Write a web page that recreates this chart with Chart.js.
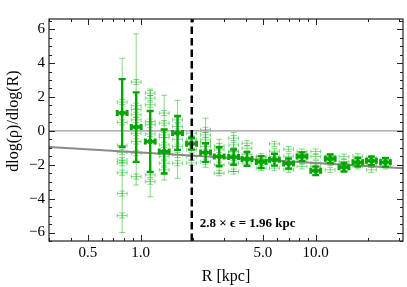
<!DOCTYPE html>
<html>
<head>
<meta charset="utf-8">
<script src="https://cdn.jsdelivr.net/npm/chart.js@4.4.0/dist/chart.umd.min.js"></script>
<style>html,body{margin:0;padding:0;background:#fff}</style>
</head>
<body>
<canvas id="slopeChart" width="407" height="287"></canvas>
<script>
// radial bins (kpc) and the mean logarithmic slope in each bin
const binR = [0.785, 0.944, 1.135, 1.364, 1.626, 1.955, 2.35, 2.81, 3.40, 4.05,
              4.88, 5.81, 7.00, 8.35, 10.0, 12.1, 14.5, 17.4, 20.8, 25.0];
const meanSlope = [1.05, 0.22, -0.63, -1.22, -0.12, -0.76, -1.28, -1.52, -1.55, -1.66,
                   -1.84, -1.70, -1.93, -1.52, -2.36, -1.65, -2.15, -1.85, -1.77, -1.86];
const meanErr = [2.0, 2.05, 1.8, 1.3, 1.0, 0.35, 0.55, 0.55, 0.45, 0.4,
                 0.35, 0.35, 0.3, 0.25, 0.25, 0.25, 0.25, 0.25, 0.25, 0.25];

// individual samples per bin (light crosses)
const sampleSlope = [
    [1.7, 0.5, -1.26, -1.72, -1.91, -2.47, -3.7, -5.0],
    [2.88, 1.48, 0.95, 0.65, -0.14, -0.63, -1.32, -2.7],
    [2.23, 1.93, 1.54, 0.55, 0.36, -0.18, -2.6, -3.0],
    [1.05, 0.46, -0.24, -0.83, -1.52, -1.91, -2.3],
    [0.65, 0.26, -0.93, -1.42, -1.91],
    [-0.14, -0.5, -1.12, -1.52, -1.9],
    [0.06, -0.24, -0.53, -0.93, -1.82],
    [-0.9, -1.12, -2.0, -2.5],
    [-0.43, -0.83, -1.22, -1.9, -2.4],
    [-0.73, -1.02, -1.4, -1.9],
    [-1.5, -1.6, -2.2],
    [-0.77, -1.2, -1.5, -2.2],
    [-1.08, -1.5, -2.3],
    [-1.22, -1.4, -1.8, -2.1],
    [-1.22, -1.52, -1.91, -2.1],
    [-1.5, -1.9, -2.3],
    [-1.52, -1.82, -2.0],
    [-1.5, -1.8, -2.1],
    [-1.6, -2.0, -2.3],
    [-1.7, -2.1]
];
const sampleErr = 0.15;
// the few samples with large error bars: [bin, centre, error]
const longSamples = [[0, -0.86, 5.14], [1, 1.26, 4.46], [2, -0.71, 3.18], [3, -0.4, 2.5],
                     [4, -0.5, 2.3], [6, -0.7, 1.45], [7, -1.5, 1.0], [8, -1.25, 1.15]];
const binHalfWidth = 0.028; // dex

const fitR = [0.3, 31.5];
const fitSlope = [-0.96, -2.2];
const softening = 1.96;

const xTicks = [0.5, 1, 5, 10];
const xMinor = [0.3, 0.4, 0.6, 0.7, 0.8, 0.9, 2, 3, 4, 6, 7, 8, 9, 20, 30];
const yTicks = [-6, -4, -2, 0, 2, 4, 6];

const DARK = 'rgb(0,165,0)';
const LIGHT = 'rgba(0,180,0,0.48)';
const SERIF = '"Liberation Serif", "Times New Roman", serif';

function makeBars(r, y, err) {
    return {r: r, y: y, lo: y - err, hi: y + err};
}

const darkBars = binR.map((r, i) => makeBars(r, meanSlope[i], meanErr[i]));
const lightBars = [];
const lightPts = [];
sampleSlope.forEach((arr, i) => {
    arr.forEach(v => {
        lightBars.push(makeBars(binR[i], v, sampleErr));
        lightPts.push({x: binR[i], y: v});
    });
});
longSamples.forEach(s => {
    lightBars.push(makeBars(binR[s[0]], s[1], s[2]));
    lightPts.push({x: binR[s[0]], y: s[1]});
});

function drawBar(ctx, xs, ys, b, st) {
    const f = Math.pow(10, binHalfWidth);
    const px = xs.getPixelForValue(b.r);
    const py = ys.getPixelForValue(b.y);
    const pl = xs.getPixelForValue(b.r / f);
    const pr = xs.getPixelForValue(b.r * f);
    const pt = ys.getPixelForValue(b.hi);
    const pb = ys.getPixelForValue(b.lo);
    ctx.strokeStyle = st.color;
    ctx.lineWidth = st.width;
    ctx.beginPath();
    ctx.moveTo(px, pt); ctx.lineTo(px, pb);
    ctx.moveTo(px - st.cap, pt); ctx.lineTo(px + st.cap, pt);
    ctx.moveTo(px - st.cap, pb); ctx.lineTo(px + st.cap, pb);
    ctx.stroke();
    ctx.lineWidth = st.hwidth;
    ctx.beginPath();
    ctx.moveTo(pl, py); ctx.lineTo(pr, py);
    ctx.moveTo(pl, py - st.hcap); ctx.lineTo(pl, py + st.hcap);
    ctx.moveTo(pr, py - st.hcap); ctx.lineTo(pr, py + st.hcap);
    ctx.stroke();
}

const errorBars = {
    id: 'errorBars',
    afterDatasetDraw(chart, args) {
        const ds = chart.data.datasets[args.index];
        if (!ds.bars) return;
        const {ctx, chartArea: a, scales: {x, y}} = chart;
        ctx.save();
        ctx.beginPath();
        ctx.rect(a.left, a.top, a.right - a.left, a.bottom - a.top);
        ctx.clip();
        ds.bars.forEach(b => drawBar(ctx, x, y, b, ds.barStyle));
        ctx.restore();
    }
};

const frame = {
    id: 'frame',
    afterDraw(chart) {
        const {ctx, chartArea: a, scales: {x, y}} = chart;
        ctx.save();
        ctx.strokeStyle = '#222';
        ctx.lineWidth = 1.2;
        ctx.strokeRect(a.left, a.top, a.right - a.left, a.bottom - a.top);
        ctx.lineWidth = 1;
        ctx.beginPath();
        const xt = (v, len) => {
            const p = Math.round(x.getPixelForValue(v)) + 0.5;
            ctx.moveTo(p, a.bottom); ctx.lineTo(p, a.bottom - len);
            ctx.moveTo(p, a.top); ctx.lineTo(p, a.top + len);
        };
        xTicks.forEach(v => xt(v, 6));
        xMinor.forEach(v => xt(v, 3));
        for (let v = -6.5; v <= 6.5; v += 0.5) {
            const len = yTicks.includes(v) ? 6 : 3;
            const p = Math.round(y.getPixelForValue(v)) + 0.5;
            ctx.moveTo(a.left, p); ctx.lineTo(a.left + len, p);
            ctx.moveTo(a.right, p); ctx.lineTo(a.right - len, p);
        }
        ctx.stroke();

        // axis titles
        ctx.fillStyle = '#000';
        ctx.font = '16px ' + SERIF;
        ctx.textAlign = 'center';
        ctx.textBaseline = 'middle';
        ctx.fillText('R [kpc]', (a.left + a.right) / 2, 277);
        ctx.save();
        ctx.translate(14, 121);
        ctx.rotate(-Math.PI / 2);
        ctx.fillText('dlog(\u03c1)/dlog(R)', 0, 0);
        ctx.restore();

        // softening annotation
        ctx.font = 'bold 13px ' + SERIF;
        ctx.textAlign = 'left';
        ctx.textBaseline = 'alphabetic';
        ctx.fillText('2.8 \u00d7 \u03f5 = 1.96 kpc', x.getPixelForValue(softening) + 8, y.getPixelForValue(-5.7));
        ctx.restore();
    }
};

function initSlopeChart() {
    const ctx = document.getElementById('slopeChart').getContext('2d');
    new Chart(ctx, {
        type: 'scatter',
        data: {
            datasets: [
                {
                    data: lightPts,
                    pointRadius: 0,
                    bars: lightBars,
                    barStyle: {color: LIGHT, width: 1, cap: 3, hwidth: 1, hcap: 2},
                    order: 5
                },
                {
                    data: [{x: fitR[0], y: 0}, {x: fitR[1], y: 0}],
                    showLine: true,
                    borderColor: '#9a9a9a',
                    borderWidth: 1.2,
                    pointRadius: 0,
                    order: 4
                },
                {
                    data: fitR.map((r, i) => ({x: r, y: fitSlope[i]})),
                    showLine: true,
                    borderColor: '#8a8a8a',
                    borderWidth: 2,
                    pointRadius: 0,
                    order: 3
                },
                {
                    data: binR.map((r, i) => ({x: r, y: meanSlope[i]})),
                    pointRadius: 2.8,
                    backgroundColor: DARK,
                    borderWidth: 0,
                    bars: darkBars,
                    barStyle: {color: DARK, width: 2.4, cap: 3.5, hwidth: 3, hcap: 3},
                    order: 2
                },
                {
                    data: [{x: softening, y: -6.5}, {x: softening, y: 6.6}],
                    showLine: true,
                    borderColor: '#000',
                    borderWidth: 2.5,
                    borderDash: [7.5, 4],
                    pointRadius: 0,
                    order: 1
                }
            ]
        },
        options: {
            responsive: false,
            animation: false,
            layout: {padding: {top: 19, right: 4, left: 0, bottom: 0}},
            plugins: {legend: {display: false}, tooltip: {enabled: false}},
            scales: {
                x: {
                    type: 'logarithmic',
                    min: 0.3,
                    max: 31.5,
                    grid: {display: false, drawTicks: false},
                    border: {display: false},
                    afterBuildTicks: s => { s.ticks = xTicks.map(v => ({value: v})); },
                    afterFit: s => { s.height = 46; },
                    ticks: {
                        autoSkip: false,
                        maxRotation: 0,
                        padding: 3,
                        color: '#000',
                        font: {family: SERIF, size: 15},
                        callback: v => Number(v).toFixed(1)
                    }
                },
                y: {
                    min: -6.5,
                    max: 6.6,
                    grid: {display: false, drawTicks: false},
                    border: {display: false},
                    afterBuildTicks: s => { s.ticks = yTicks.map(v => ({value: v})); },
                    afterFit: s => { s.width = 49; },
                    ticks: {
                        padding: 4,
                        color: '#000',
                        font: {family: SERIF, size: 15},
                        callback: v => v < 0 ? '\u2212' + Math.abs(v) : String(v)
                    }
                }
            }
        },
        plugins: [errorBars, frame]
    });
}

document.addEventListener('DOMContentLoaded', () => {
    initSlopeChart();
});
</script>
</body>
</html>
